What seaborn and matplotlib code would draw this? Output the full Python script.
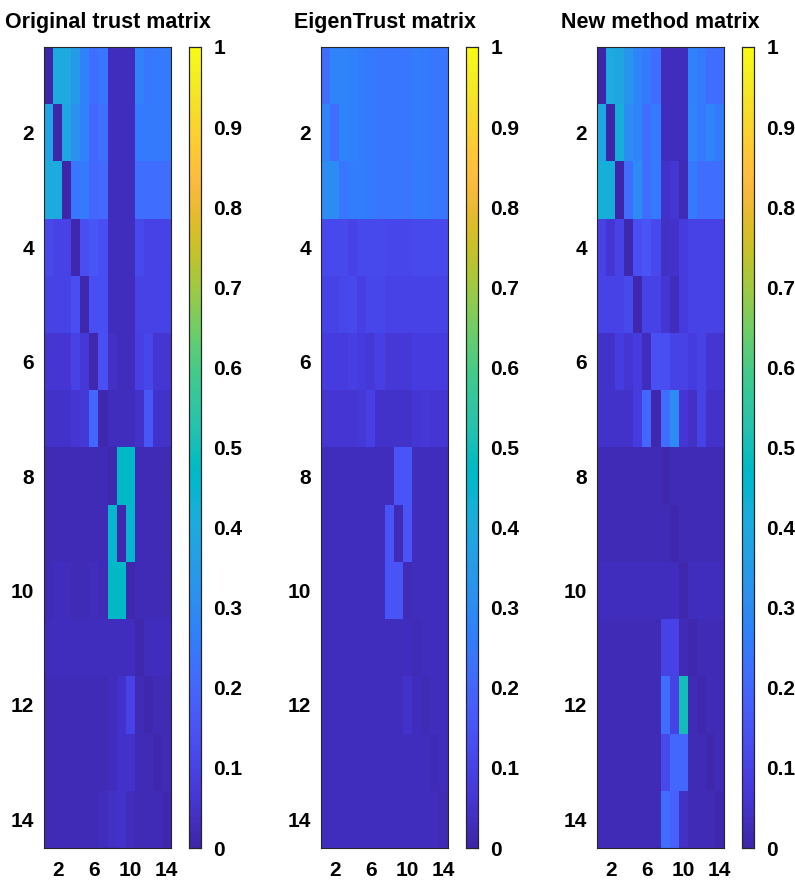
import numpy as np
import matplotlib
matplotlib.use('Agg')
import matplotlib.pyplot as plt
from matplotlib import font_manager
from matplotlib.colors import LinearSegmentedColormap
import seaborn as sns

# MATLAB parula (64 entries)
parula_rgb = [
    [0.2422, 0.1504, 0.6603], [0.2504, 0.1650, 0.7076], [0.2578, 0.1818, 0.7511], [0.2647, 0.1978, 0.7952],
    [0.2706, 0.2147, 0.8364], [0.2751, 0.2342, 0.8710], [0.2783, 0.2559, 0.8991], [0.2803, 0.2782, 0.9221],
    [0.2813, 0.3006, 0.9414], [0.2810, 0.3228, 0.9579], [0.2795, 0.3447, 0.9717], [0.2760, 0.3667, 0.9829],
    [0.2699, 0.3892, 0.9906], [0.2602, 0.4123, 0.9952], [0.2440, 0.4358, 0.9988], [0.2206, 0.4603, 0.9973],
    [0.1963, 0.4847, 0.9892], [0.1834, 0.5074, 0.9798], [0.1786, 0.5289, 0.9682], [0.1764, 0.5499, 0.9520],
    [0.1687, 0.5703, 0.9359], [0.1540, 0.5902, 0.9218], [0.1460, 0.6091, 0.9079], [0.1380, 0.6276, 0.8973],
    [0.1248, 0.6459, 0.8883], [0.1113, 0.6635, 0.8763], [0.0952, 0.6798, 0.8598], [0.0689, 0.6948, 0.8394],
    [0.0297, 0.7082, 0.8163], [0.0036, 0.7203, 0.7917], [0.0067, 0.7312, 0.7660], [0.0433, 0.7411, 0.7394],
    [0.0964, 0.7500, 0.7120], [0.1408, 0.7584, 0.6842], [0.1717, 0.7670, 0.6554], [0.1938, 0.7758, 0.6251],
    [0.2161, 0.7843, 0.5923], [0.2470, 0.7918, 0.5567], [0.2906, 0.7973, 0.5188], [0.3406, 0.8008, 0.4789],
    [0.3909, 0.8029, 0.4354], [0.4456, 0.8024, 0.3909], [0.5044, 0.7993, 0.3480], [0.5616, 0.7942, 0.3045],
    [0.6174, 0.7876, 0.2612], [0.6720, 0.7793, 0.2227], [0.7242, 0.7698, 0.1910], [0.7738, 0.7598, 0.1646],
    [0.8203, 0.7498, 0.1535], [0.8634, 0.7406, 0.1596], [0.9035, 0.7330, 0.1774], [0.9393, 0.7288, 0.2100],
    [0.9728, 0.7298, 0.2394], [0.9956, 0.7434, 0.2371], [0.9970, 0.7659, 0.2199], [0.9952, 0.7893, 0.2028],
    [0.9892, 0.8136, 0.1885], [0.9786, 0.8386, 0.1766], [0.9676, 0.8639, 0.1643], [0.9610, 0.8890, 0.1537],
    [0.9597, 0.9135, 0.1423], [0.9628, 0.9373, 0.1265], [0.9691, 0.9606, 0.1064], [0.9769, 0.9839, 0.0805],
]
parula = LinearSegmentedColormap.from_list('parula', parula_rgb, N=256)

titles = ['Original trust matrix', 'EigenTrust matrix', 'New method matrix']

original = [
    [0.00, 0.40, 0.40, 0.35, 0.27, 0.22, 0.24, 0.03, 0.03, 0.03, 0.27, 0.24, 0.25, 0.25],
    [0.38, 0.00, 0.38, 0.32, 0.27, 0.20, 0.23, 0.03, 0.03, 0.03, 0.25, 0.25, 0.25, 0.25],
    [0.40, 0.40, 0.00, 0.24, 0.25, 0.20, 0.21, 0.03, 0.03, 0.03, 0.22, 0.22, 0.22, 0.22],
    [0.12, 0.10, 0.10, 0.01, 0.13, 0.16, 0.13, 0.03, 0.03, 0.03, 0.12, 0.10, 0.10, 0.10],
    [0.10, 0.10, 0.10, 0.13, 0.01, 0.13, 0.13, 0.03, 0.03, 0.03, 0.10, 0.10, 0.10, 0.10],
    [0.06, 0.06, 0.06, 0.10, 0.07, 0.01, 0.14, 0.04, 0.03, 0.03, 0.09, 0.11, 0.06, 0.06],
    [0.05, 0.05, 0.05, 0.06, 0.07, 0.20, 0.01, 0.03, 0.03, 0.03, 0.05, 0.16, 0.05, 0.05],
    [0.02, 0.02, 0.02, 0.02, 0.02, 0.02, 0.02, 0.01, 0.47, 0.47, 0.02, 0.02, 0.02, 0.02],
    [0.02, 0.02, 0.02, 0.02, 0.02, 0.02, 0.02, 0.45, 0.01, 0.45, 0.02, 0.02, 0.02, 0.02],
    [0.02, 0.03, 0.03, 0.02, 0.02, 0.03, 0.02, 0.47, 0.47, 0.01, 0.02, 0.02, 0.02, 0.02],
    [0.03, 0.03, 0.03, 0.03, 0.03, 0.03, 0.03, 0.03, 0.03, 0.03, 0.01, 0.03, 0.03, 0.03],
    [0.02, 0.02, 0.02, 0.02, 0.02, 0.02, 0.02, 0.03, 0.05, 0.10, 0.02, 0.01, 0.02, 0.02],
    [0.02, 0.02, 0.02, 0.02, 0.02, 0.02, 0.02, 0.03, 0.05, 0.05, 0.02, 0.02, 0.01, 0.02],
    [0.02, 0.02, 0.02, 0.02, 0.02, 0.02, 0.03, 0.04, 0.05, 0.03, 0.02, 0.02, 0.02, 0.01],
]

eigentrust = [
    [0.22, 0.28, 0.28, 0.27, 0.26, 0.25, 0.24, 0.24, 0.24, 0.24, 0.26, 0.25, 0.24, 0.24],
    [0.28, 0.22, 0.28, 0.27, 0.26, 0.25, 0.24, 0.24, 0.24, 0.24, 0.26, 0.25, 0.24, 0.24],
    [0.30, 0.30, 0.24, 0.26, 0.26, 0.25, 0.24, 0.24, 0.24, 0.24, 0.25, 0.25, 0.24, 0.24],
    [0.12, 0.12, 0.12, 0.10, 0.12, 0.12, 0.12, 0.11, 0.11, 0.11, 0.12, 0.12, 0.12, 0.12],
    [0.10, 0.10, 0.11, 0.12, 0.09, 0.11, 0.11, 0.10, 0.10, 0.10, 0.10, 0.10, 0.10, 0.10],
    [0.08, 0.08, 0.08, 0.09, 0.08, 0.07, 0.09, 0.07, 0.07, 0.07, 0.08, 0.08, 0.08, 0.08],
    [0.06, 0.06, 0.06, 0.06, 0.07, 0.09, 0.05, 0.05, 0.05, 0.05, 0.06, 0.07, 0.06, 0.06],
    [0.03, 0.03, 0.03, 0.03, 0.03, 0.03, 0.03, 0.03, 0.15, 0.15, 0.03, 0.03, 0.03, 0.03],
    [0.03, 0.03, 0.03, 0.03, 0.03, 0.03, 0.03, 0.15, 0.02, 0.15, 0.03, 0.03, 0.03, 0.03],
    [0.03, 0.03, 0.03, 0.03, 0.03, 0.03, 0.03, 0.15, 0.15, 0.02, 0.03, 0.03, 0.03, 0.03],
    [0.03, 0.03, 0.03, 0.03, 0.03, 0.03, 0.03, 0.03, 0.03, 0.03, 0.02, 0.03, 0.03, 0.03],
    [0.03, 0.03, 0.03, 0.03, 0.03, 0.03, 0.03, 0.03, 0.03, 0.05, 0.03, 0.02, 0.03, 0.03],
    [0.03, 0.03, 0.03, 0.03, 0.03, 0.03, 0.03, 0.03, 0.03, 0.03, 0.03, 0.03, 0.02, 0.03],
    [0.03, 0.03, 0.03, 0.03, 0.03, 0.03, 0.03, 0.03, 0.03, 0.03, 0.03, 0.03, 0.03, 0.02],
]

new_method = [
    [0.00, 0.40, 0.38, 0.33, 0.28, 0.25, 0.22, 0.03, 0.03, 0.03, 0.27, 0.25, 0.22, 0.22],
    [0.38, 0.00, 0.42, 0.30, 0.28, 0.22, 0.25, 0.03, 0.03, 0.03, 0.28, 0.25, 0.28, 0.25],
    [0.42, 0.42, 0.00, 0.22, 0.30, 0.22, 0.25, 0.05, 0.06, 0.02, 0.25, 0.22, 0.22, 0.22],
    [0.10, 0.06, 0.10, 0.01, 0.13, 0.15, 0.12, 0.04, 0.05, 0.08, 0.10, 0.10, 0.10, 0.10],
    [0.10, 0.10, 0.10, 0.12, 0.01, 0.10, 0.10, 0.06, 0.03, 0.08, 0.10, 0.10, 0.10, 0.10],
    [0.05, 0.05, 0.08, 0.06, 0.08, 0.03, 0.14, 0.13, 0.10, 0.10, 0.08, 0.10, 0.06, 0.06],
    [0.05, 0.05, 0.05, 0.05, 0.08, 0.20, 0.01, 0.22, 0.30, 0.06, 0.04, 0.10, 0.05, 0.05],
    [0.02, 0.02, 0.02, 0.02, 0.02, 0.02, 0.02, 0.01, 0.02, 0.02, 0.02, 0.02, 0.02, 0.02],
    [0.02, 0.02, 0.02, 0.02, 0.02, 0.02, 0.02, 0.02, 0.01, 0.02, 0.02, 0.02, 0.02, 0.02],
    [0.03, 0.03, 0.03, 0.03, 0.03, 0.03, 0.03, 0.03, 0.03, 0.01, 0.03, 0.03, 0.03, 0.03],
    [0.02, 0.02, 0.02, 0.02, 0.02, 0.02, 0.02, 0.10, 0.10, 0.02, 0.01, 0.02, 0.02, 0.02],
    [0.02, 0.02, 0.02, 0.02, 0.02, 0.02, 0.02, 0.22, 0.10, 0.50, 0.02, 0.01, 0.02, 0.02],
    [0.02, 0.02, 0.02, 0.02, 0.02, 0.02, 0.02, 0.12, 0.20, 0.20, 0.02, 0.02, 0.01, 0.02],
    [0.02, 0.02, 0.02, 0.02, 0.02, 0.02, 0.02, 0.22, 0.19, 0.04, 0.02, 0.02, 0.02, 0.01],
]

x_ticks = [2, 4, 6, 8, 10, 12, 14]
x_labels = ['2', '', '6', '', '10', '', '14']
y_ticks = [2, 4, 6, 8, 10, 12, 14]
cbar_ticks = [0, 0.1, 0.2, 0.3, 0.4, 0.5, 0.6, 0.7, 0.8, 0.9, 1.0]

# pick a narrow bold face if the system has one
names = {f.name for f in font_manager.fontManager.ttflist}
family = 'Liberation Sans Narrow' if 'Liberation Sans Narrow' in names else 'Liberation Sans'

sns.set_style('white')
plt.rcParams['font.family'] = [family, 'DejaVu Sans']
plt.rcParams['font.weight'] = 'bold'
plt.rcParams['text.color'] = 'black'

fig = plt.figure(figsize=(7.95, 8.91), dpi=100)

W, H = 795.0, 891.0
ax_lefts = [44, 321, 597]
ax_w = 127
cb_gap = 18
cb_w = 12
top, bottom = 47, 848

for i, mat in enumerate([original, eigentrust, new_method]):
    left = ax_lefts[i]
    ax = fig.add_axes([left / W, 1 - bottom / H, ax_w / W, (bottom - top) / H])
    cax = fig.add_axes([(left + ax_w + cb_gap) / W, 1 - bottom / H, cb_w / W, (bottom - top) / H])
    sns.heatmap(np.array(mat), ax=ax, cbar_ax=cax, cmap=parula, vmin=0, vmax=1,
                xticklabels=False, yticklabels=False)

    ax.set_xticks([t - 0.5 for t in x_ticks])
    ax.set_xticklabels(x_labels, fontsize=15, fontweight='bold')
    ax.set_yticks([t - 0.5 for t in y_ticks])
    ax.set_yticklabels([str(t) for t in y_ticks], fontsize=15, fontweight='bold', rotation=0)
    ax.tick_params(axis='x', pad=9)
    ax.tick_params(direction='in', length=4, width=0.8, color='#262626', labelcolor='black',
                   top=True, right=True, bottom=True, left=True)
    ax.tick_params(axis='y', pad=7)
    for s in ax.spines.values():
        s.set_visible(True)
        s.set_color('#262626')
        s.set_linewidth(0.8)
    ax.set_title(titles[i], fontsize=15.5, fontweight='bold', pad=14, color='black')

    cax.set_yticks(cbar_ticks)
    cax.set_yticklabels(['%g' % t for t in cbar_ticks], fontsize=15, fontweight='bold')
    cax.tick_params(direction='in', length=3, width=0.8, color='#262626', labelcolor='black',
                    left=True, right=True, labelleft=False, labelright=True, pad=9)
    for s in cax.spines.values():
        s.set_visible(True)
        s.set_color('#262626')
        s.set_linewidth(0.8)

fig.savefig('out.png', dpi=100)
